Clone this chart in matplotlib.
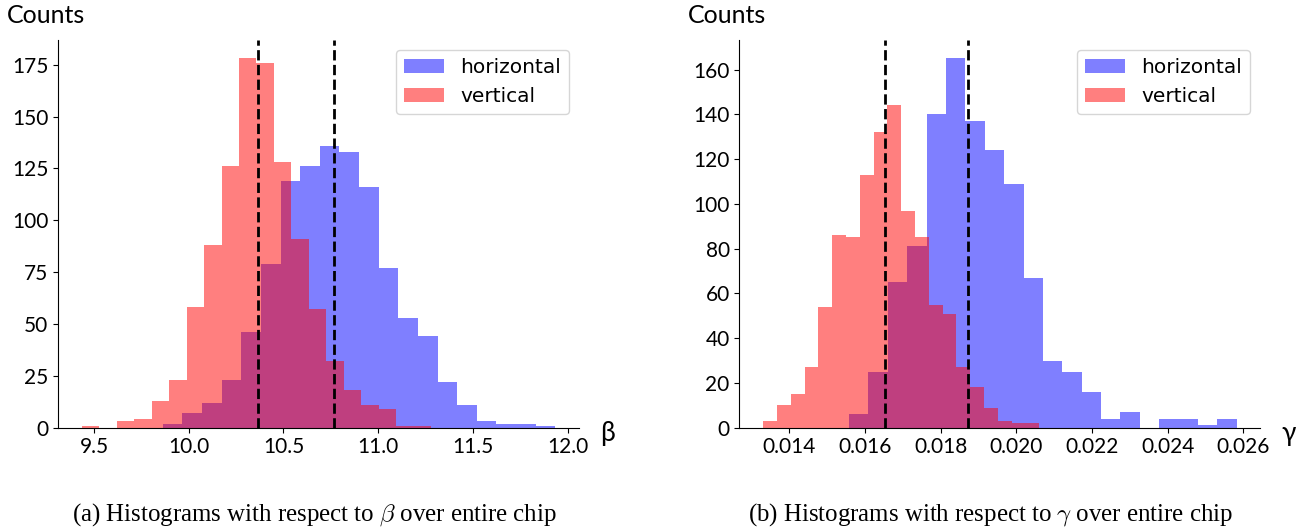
import numpy as np
import matplotlib
matplotlib.use("Agg")
import matplotlib.pyplot as plt

plt.rcParams['mathtext.fontset'] = 'cm'

# beta histograms (20 bins each)
beta_h_range = (9.863, 11.935)
beta_h_counts = [2, 7, 12, 23, 46, 79, 119, 126, 136, 133,
                 116, 77, 53, 44, 22, 11, 3, 2, 2, 1]
beta_v_range = (9.435, 11.28)
beta_v_counts = [1, 0, 3, 4, 13, 23, 58, 88, 126, 178,
                 176, 128, 91, 57, 32, 18, 11, 9, 1, 1]
beta_means = {'horizontal': 10.765, 'vertical': 10.365}

# gamma histograms (20 bins each)
gamma_h_range = (0.015578, 0.025823)
gamma_h_counts = [6, 25, 65, 81, 140, 165, 137, 124, 109, 67,
                  30, 25, 16, 4, 7, 0, 4, 4, 1, 4]
gamma_v_range = (0.013306, 0.020607)
gamma_v_counts = [3, 10, 15, 27, 54, 86, 85, 113, 132, 144,
                  97, 85, 55, 51, 27, 18, 9, 3, 2, 2]
gamma_means = {'horizontal': 0.018721, 'vertical': 0.016528}

gamma_ticks = [0.014, 0.016, 0.018, 0.020, 0.022, 0.024, 0.026]

TICK_FONT = 'Lato'


def draw_panel(ax, h_range, h_counts, v_range, v_counts, means, symbol):
    for rng, counts, color, label in [(h_range, h_counts, 'blue', 'horizontal'),
                                      (v_range, v_counts, 'red', 'vertical')]:
        edges = np.linspace(rng[0], rng[1], len(counts) + 1)
        ax.hist(edges[:-1], bins=edges, weights=counts, color=color,
                alpha=0.5, label=label)
    for m in means.values():
        ax.axvline(m, color='k', linestyle='--', linewidth=2)

    ax.spines['top'].set_visible(False)
    ax.spines['right'].set_visible(False)
    ax.tick_params(labelsize=15)
    for lbl in ax.get_xticklabels() + ax.get_yticklabels():
        lbl.set_fontfamily(TICK_FONT)

    ax.text(-0.098, 1.044, 'Counts', transform=ax.transAxes,
            fontsize=18, fontfamily=TICK_FONT, ha='left', va='baseline')
    ax.text(1.04, -0.014, symbol, transform=ax.transAxes,
            fontsize=19, fontfamily=TICK_FONT, ha='left', va='center')
    ax.legend(loc='upper right', fontsize=14.5)


fig = plt.figure(figsize=(13.07, 5.27), dpi=100)
ax1 = fig.add_axes([0.0444, 0.1884, 0.3986, 0.7357])
ax2 = fig.add_axes([0.5657, 0.1884, 0.3987, 0.7357])

draw_panel(ax1, beta_h_range, beta_h_counts, beta_v_range, beta_v_counts,
           beta_means, 'β')
ax2.set_xticks(gamma_ticks)
draw_panel(ax2, gamma_h_range, gamma_h_counts, gamma_v_range, gamma_v_counts,
           gamma_means, 'γ')

fig.text(314 / 1307, 1 - 515 / 527,
         r'(a) Histograms with respect to $\beta$ over entire chip',
         fontsize=17.9, fontfamily='Liberation Serif', ha='center', va='center')
fig.text(991 / 1307, 1 - 515 / 527,
         r'(b) Histograms with respect to $\gamma$ over entire chip',
         fontsize=17.9, fontfamily='Liberation Serif', ha='center', va='center')

fig.savefig('out.png', dpi=100)
